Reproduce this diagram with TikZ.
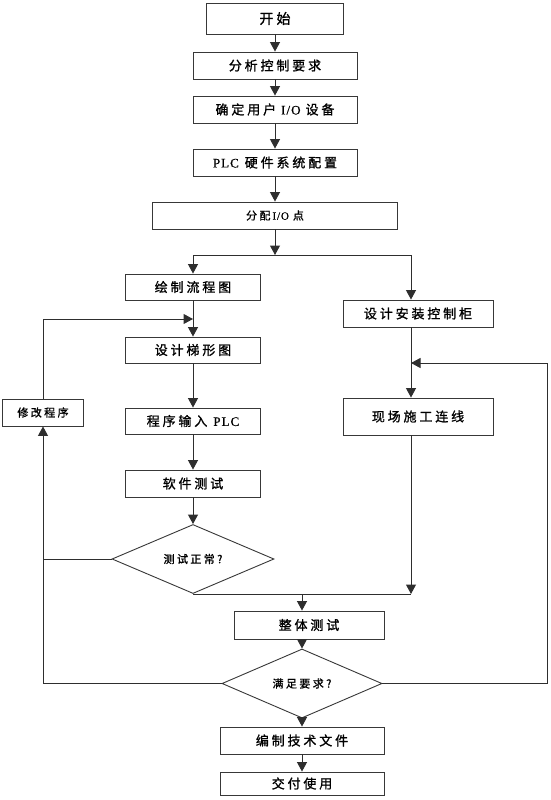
\documentclass[tikz,border=0pt]{standalone}
\usepackage{fontspec}
\setmainfont[LetterSpace=8, FakeBold=0.6]{Liberation Serif}
\newfontfamily\cjk[LetterSpace=22, FakeBold=1.2]{Noto Sans CJK SC}
\usetikzlibrary{arrows.meta,shapes.geometric}
\begin{document}
\begin{tikzpicture}[x=1pt,y=-1pt,
  box/.style={draw=black!78, line width=0.9pt, minimum height=27pt, inner sep=0pt,
    fill=white, font=\fontsize{13}{13}\selectfont},
  dia/.style={draw=black!78, line width=0.9pt, diamond, inner sep=0pt, fill=white,
    font=\fontsize{11}{11}\selectfont},
  ln/.style={draw=black!82, line width=1pt},
  arr/.style={ln, -{Triangle[length=9.5pt,width=10pt]}}]
\useasboundingbox[fill=white] (0,0) rectangle (550,800);

% top column
\node[box, minimum width=137pt, minimum height=31pt, font=\fontsize{14}{14}\selectfont] (start) at (275,18.5) {\cjk 开始};
\node[box, minimum width=164pt] (n1) at (275,65.5) {\cjk 分析控制要求};
\node[box, minimum width=164pt] (n2) at (275,109.5) {{\cjk 确定用户}\hspace{5pt}I/O\hspace{5pt}{\cjk 设备}};
\node[box, minimum width=164pt] (n3) at (275,162.5) {PLC\hspace{6pt}{\cjk 硬件系统配置}};
\node[box, minimum width=245pt, font=\fontsize{11}{11}\selectfont] (n4) at (275,215.5) {{\cjk 分配}\hspace{2pt}I/O\hspace{4pt}{\cjk 点}};

% left column
\node[box, minimum width=135pt, minimum height=26pt] (L1) at (193,287) {\cjk 绘制流程图};
\node[box, minimum width=135pt, minimum height=26pt] (L2) at (193,350) {\cjk 设计梯形图};
\node[box, minimum width=135pt, minimum height=26pt] (L3) at (193,421) {{\cjk 程序输入}\hspace{6pt}PLC};
\node[box, minimum width=135pt] (L4) at (193,483.5) {\cjk 软件测试};
\node[dia, minimum width=162pt, minimum height=52pt] (D1) at (193,559) {\cjk 测试正常?};
\node[box, minimum width=81pt, font=\fontsize{11}{11}\selectfont] (M) at (43,412.5) {\cjk 修改程序};

% right column
\node[box, minimum width=150pt] (R1) at (418,313.5) {\cjk 设计安装控制柜};
\node[box, minimum width=150pt, minimum height=37pt] (R2) at (418,416.5) {\cjk 现场施工连线};

% bottom
\node[box, minimum width=150pt, minimum height=28pt] (T) at (309,625) {\cjk 整体测试};
\node[dia, minimum width=160pt, minimum height=53pt] (D2) at (302,683.5) {\cjk 满足要求?};
\node[box, minimum width=164pt] (W) at (302,740.5) {\cjk 编制技术文件};
\node[box, minimum width=164pt, minimum height=23pt] (J) at (302,783.5) {\cjk 交付使用};

% junction coordinates
\coordinate (jl) at (193,255);
\coordinate (jr) at (411,255);
\coordinate (fb1) at (193,319);
\coordinate (fb2) at (411,363);
\coordinate (rc) at (547,363);
\coordinate (j2) at (302,594);
\coordinate (j2r) at (411,594);

% connectors
\draw[arr] (start.south) -- (n1.north);
\draw[arr] (n1.south) -- (n2.north);
\draw[arr] (n2.south) -- (n3.north);
\draw[arr] (n3.south) -- (n4.north);
\draw[arr] (n4.south) -- (n4.south |- jl);
\draw[ln] (jl) -- (jr);
\draw[arr] (jl) -- (L1.north);
\draw[arr] (jr) -- (jr |- R1.north);

\draw[arr] (L1.south) -- (L2.north);
\draw[arr] (M.north) |- (fb1);
\draw[arr] (L2.south) -- (L3.north);
\draw[arr] (L3.south) -- (L4.north);
\draw[arr] (L4.south) -- (D1.north);
\draw[ln] (D1.west) -- (D1.west -| M.south);
\draw[ln] (D1.south) |- (j2r);

\draw[arr] (R1.south -| jr) -- (R2.north -| jr);
\draw[arr] (R2.south -| jr) -- (j2r);
\draw[arr] (rc) -- (fb2);

\draw[arr] (j2) -- (T.north -| j2);
\draw[arr] (T.south -| j2) -- (D2.north);
\draw[arr] (D2.south) -- (W.north);
\draw[arr] (W.south) -- (J.north);
\draw[arr] (D2.west) -| (M.south);
\draw[ln] (D2.east) -| (rc);
\end{tikzpicture}
\end{document}
